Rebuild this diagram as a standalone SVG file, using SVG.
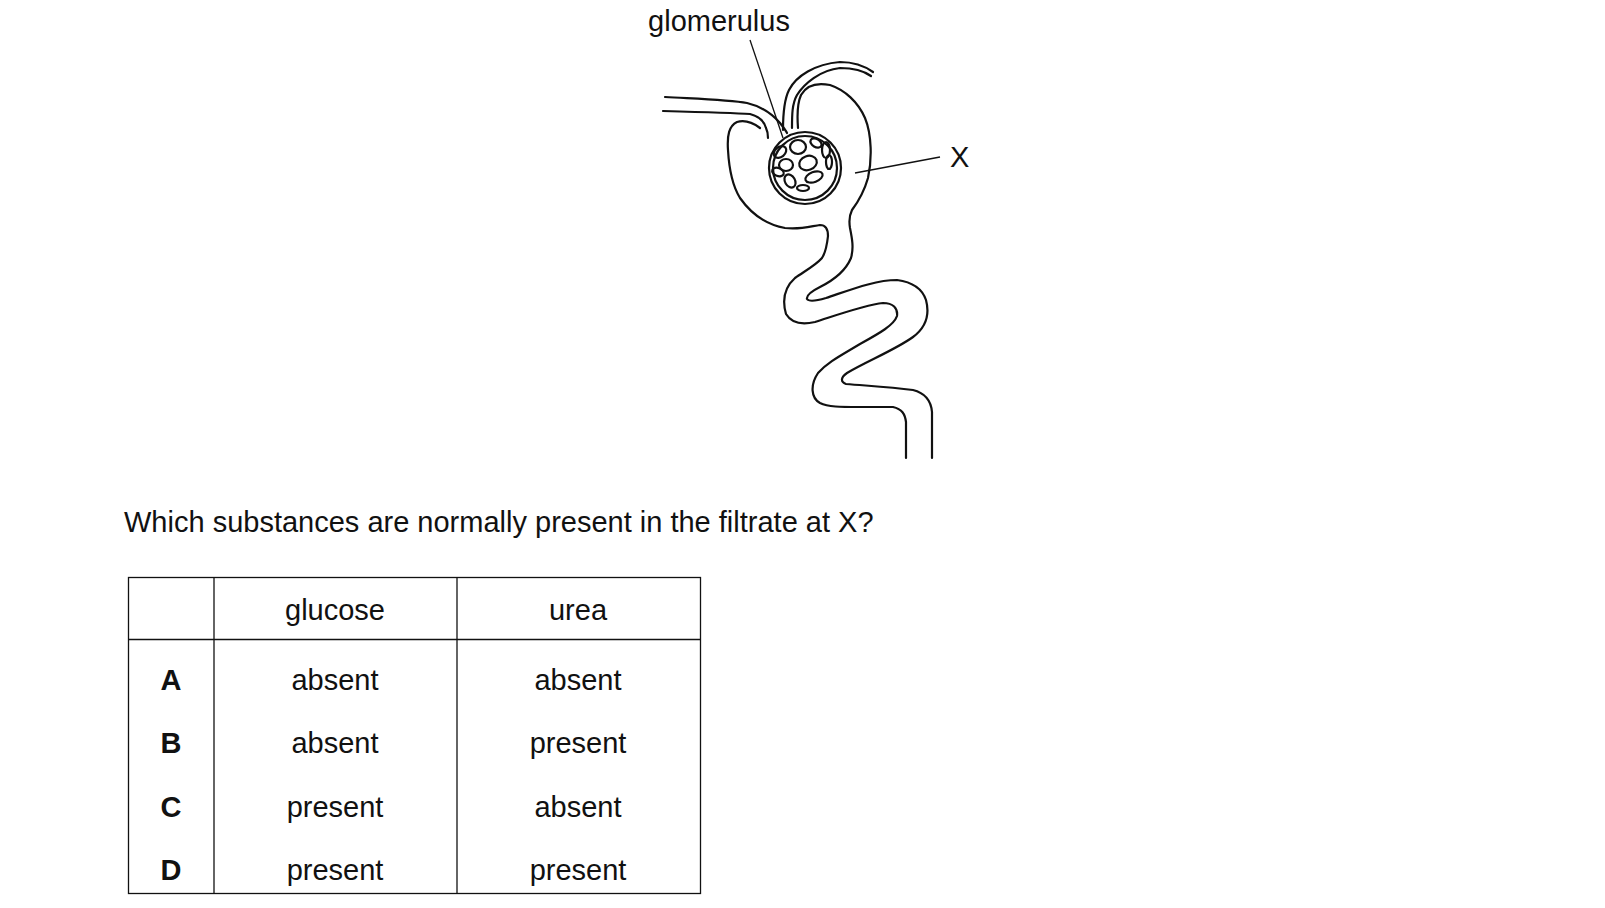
<svg xmlns="http://www.w3.org/2000/svg" width="1605" height="908" viewBox="0 0 1605 908">
<style>
.t{font-family:"Liberation Sans",Arial,sans-serif;font-size:29px;fill:#111}
.c{text-anchor:middle}
.b{font-weight:bold}
.l{fill:none;stroke:#111;stroke-width:2.2;stroke-linecap:round;stroke-linejoin:round}
.p{fill:none;stroke:#111;stroke-width:1.3}
</style>
<rect width="1605" height="908" fill="#fff"/>
<g id="nephron">
<path class="l" d="M665,97 C700,99 730,100 747,103 C760,106 772,114 780,123 C784,128 786,131 787,133"/>
<path class="l" d="M663,111 C700,112 735,113 750,114 C758,116 764,121 766,128 C768,132 768,135 768,138"/>
<path class="l" d="M783,130 C783,115 784,100 789,90 C796,76 815,64 840,62 C855,62 866,67 873,72"/>
<path class="l" d="M792,128 C792,115 792,104 797,95 C804,84 820,70 840,68 C853,68 864,71 871,76"/>
<path class="l" d="M760,128 C752,122 744,120 737,122 C729,126 727,135 728,150 C729,168 732,185 740,198 C752,215 768,225 785,228 C800,230 812,226 820,225 C826,225 828,229 828,236 C827,245 826,252 822,258 C815,266 803,272 795,278 C785,287 782,300 786,314 C792,324 802,325 815,322 C840,314 865,305 883,303 C893,303 898,308 897,316 C894,325 880,333 860,344 C840,356 828,362 818,373 C810,385 811,398 820,403 C828,407 840,407 860,407 L893,407 C902,409 905,414 906,422 L906,458"/>
<path class="l" d="M798,128 C797,115 797,104 801,95 C806,86 815,82 830,85 C845,90 858,102 865,118 C872,135 872,160 868,178 C864,192 858,202 852,210 C849,216 849,222 850,228 C852,238 854,248 851,258 C846,270 834,280 820,287 C812,291 806,295 807,299 C809,302 816,301 826,298 C850,290 875,280 897,280 C912,282 922,288 926,300 C930,315 925,328 913,337 C895,350 865,362 847,373 C841,377 840,382 846,384 C870,386 890,387 913,390 C925,393 931,400 932,412 L932,458"/>
<circle class="l" cx="805" cy="168" r="36"/>
<circle class="l" cx="805" cy="168" r="32"/>
<g class="l" stroke-width="1.8">
<ellipse cx="780" cy="152" rx="7" ry="5" transform="rotate(-40 780 152)"/>
<ellipse cx="798" cy="147" rx="8" ry="7"/>
<ellipse cx="816" cy="143" rx="6" ry="4" transform="rotate(30 816 143)"/>
<ellipse cx="826" cy="150" rx="4" ry="8"/>
<ellipse cx="786" cy="165" rx="7" ry="6"/>
<ellipse cx="808" cy="163" rx="9" ry="7" transform="rotate(-20 808 163)"/>
<ellipse cx="829" cy="162" rx="3" ry="7"/>
<ellipse cx="778" cy="172" rx="6" ry="4" transform="rotate(20 778 172)"/>
<ellipse cx="790" cy="181" rx="5" ry="7" transform="rotate(-30 790 181)"/>
<ellipse cx="814" cy="177" rx="9" ry="5" transform="rotate(-20 814 177)"/>
<ellipse cx="803" cy="188" rx="6" ry="3"/>
</g>
</g>
<g id="connectors">
<line class="p" x1="750" y1="40" x2="783" y2="138"/>
<line class="p" x1="855" y1="173" x2="940" y2="157"/>
</g>
<g id="labels">
<text class="t c" x="719" y="31">glomerulus</text>
<text class="t" x="950" y="167">X</text>
<text class="t" x="124" y="532">Which substances are normally present in the filtrate at X?</text>
</g>
<g id="table">
<rect class="p" x="128.5" y="577.5" width="572" height="316" stroke-width="1.5"/>
<line class="p" x1="128.5" y1="639.5" x2="700.5" y2="639.5" stroke-width="1.5"/>
<line class="p" x1="214" y1="577.5" x2="214" y2="893.5" stroke-width="1.5"/>
<line class="p" x1="457" y1="577.5" x2="457" y2="893.5" stroke-width="1.5"/>
<text class="t c" x="335" y="620">glucose</text>
<text class="t c" x="578" y="620">urea</text>
<text class="t c b" x="171" y="690">A</text>
<text class="t c" x="335" y="690">absent</text>
<text class="t c" x="578" y="690">absent</text>
<text class="t c b" x="171" y="753">B</text>
<text class="t c" x="335" y="753">absent</text>
<text class="t c" x="578" y="753">present</text>
<text class="t c b" x="171" y="817">C</text>
<text class="t c" x="335" y="817">present</text>
<text class="t c" x="578" y="817">absent</text>
<text class="t c b" x="171" y="880">D</text>
<text class="t c" x="335" y="880">present</text>
<text class="t c" x="578" y="880">present</text>
</g>
</svg>
